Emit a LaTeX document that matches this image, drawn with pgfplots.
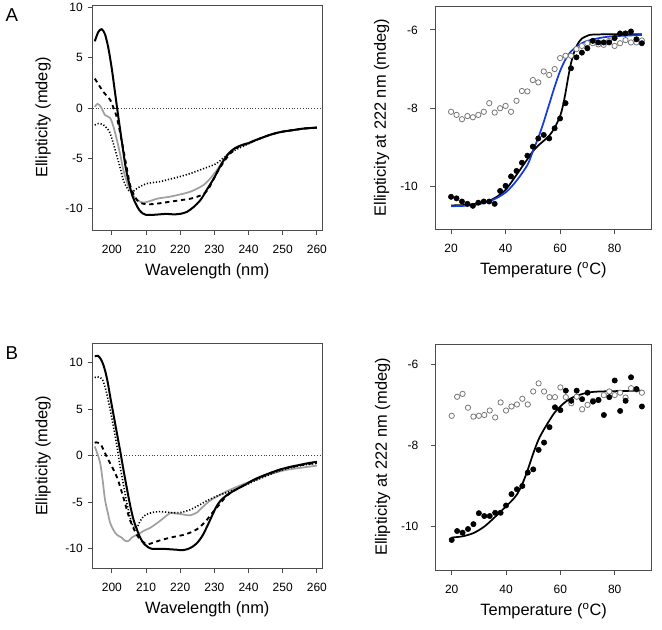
\documentclass[border=0pt]{standalone}
\usepackage{pgfplots}
\pgfplotsset{compat=1.18}
\usepackage{fontspec}
\setmainfont{Liberation Sans}
\definecolor{lgray}{RGB}{160,160,160}
\definecolor{cgray}{RGB}{120,120,120}
\definecolor{fitblue}{RGB}{20,60,220}
\begin{document}
\begin{tikzpicture}
\useasboundingbox (0,0) rectangle (496.5pt,-472.5pt);
\pgfplotsset{
  every axis/.append style={
    scale only axis, anchor=north west,
    axis line style={black!70, line width=0.6pt},
    every tick/.style={black!70, line width=0.6pt},
    tick align=outside, major tick length=3.75pt,
    xtick pos=bottom, ytick pos=left,
    ticklabel style={font=\fontsize{9}{11}\selectfont},
    label style={font=\fontsize{12.3}{14}\selectfont},
    xticklabel style={inner sep=0pt, anchor=north, yshift=-7.4pt},
    yticklabel style={inner sep=0pt, anchor=east, xshift=-3.5pt},
    xlabel style={at={(axis description cs:0.5,-0.182)}, anchor=center},
  },
  cdax/.style={
    width=171.98pt, height=168.75pt,
    xmin=194.4, xmax=261.5,
    xtick={200,210,220,230,240,250,260},
    xticklabels={200,210,220,230,240,250,260},
    ytick={-10,-5,0,5,10}, yticklabels={-10,-5,0,5,10},
    xlabel={Wavelength (nm)}, ylabel={Ellipticity (mdeg)},
    ylabel style={at={(axis description cs:-0.2167,0.5)}, anchor=center},
  },
  tax/.style={
    width=162.5pt, height=167.5pt,
    xmin=14.1, xmax=93.6,
    xtick={20,40,60,80}, xticklabels={20,40,60,80},
    ytick={-10,-8,-6}, yticklabels={-10,-8,-6},
    yticklabel style={xshift=-5.5pt},
    xlabel={Temperature (\textsuperscript{o}C)},
    ylabel={Ellipticity at 222 nm (mdeg)},
    ylabel style={at={(axis description cs:-0.246,0.5)}, anchor=center},
  },
  blk/.style={black, line width=1.5pt},
  dsh/.style={black, line width=1.4pt, dash pattern=on 3.2pt off 2.8pt},
  dtt/.style={black, line width=1.2pt, dash pattern=on 0.9pt off 1.4pt},
  gry/.style={lgray, line width=1.3pt},
  zer/.style={black!75, line width=0.5pt, dash pattern=on 0.6pt off 1.5pt},
  fill pt/.style={only marks, mark=*, mark size=2.0pt, mark options={fill=black, draw=black}},
  open pt/.style={only marks, mark=*, mark size=2.0pt, mark options={fill=white, draw=cgray, line width=0.6pt}},
}
\node[font=\fontsize{14}{16}\selectfont] at (8.8pt,-11.3pt) {A};
\node[font=\fontsize{14}{16}\selectfont] at (8.8pt,-265pt) {B};

% ---------- A left ----------
\begin{axis}[cdax, at={(69.53pt,-3.75pt)}, ymin=-12.1, ymax=10.2]
\addplot[zer] coordinates {(194.4,0) (261.5,0)};
\addplot[dtt, smooth] coordinates {(195,-1.7)(196,-1.55)(197,-1.6)(198,-1.8)(199,-2.2)(199.5,-2.5)(200.5,-3.6)(201.5,-4.8)(202.5,-6.0)(203.4,-7.2)(204.4,-7.9)(205.3,-8.3)(206.3,-8.25)(207.3,-8.0)(208.5,-7.75)(210.2,-7.5)(212,-7.4)(214.2,-7.3)(216.5,-7.1)(219,-6.9)(221,-6.7)(223,-6.5)(225,-6.25)(227,-6.0)(229,-5.75)(230.7,-5.5)(232.5,-5.0)(234.6,-4.5)(236.5,-4.1)(238.5,-3.8)(240,-3.55)(242,-3.25)(244,-2.95)(246,-2.7)(248,-2.5)(250,-2.35)(252,-2.25)(254,-2.15)(256,-2.05)(258,-2.0)(260,-1.95)};
\addplot[gry, smooth] coordinates {(195,0.1)(195.8,0.4)(196.8,0.1)(198,-0.7)(199.5,-1.0)(200.5,-1.9)(201.5,-3.2)(202.5,-4.7)(203.4,-6.2)(204.4,-7.3)(205.3,-8.1)(206.3,-8.7)(207.3,-9.1)(208.3,-9.3)(209.2,-9.4)(211,-9.25)(213.2,-9.0)(215,-8.9)(217,-8.8)(219,-8.65)(221,-8.5)(223,-8.3)(225,-8.0)(227,-7.6)(228.5,-7.1)(230,-6.5)(231.5,-5.8)(233.6,-4.7)(235,-4.2)(236.5,-3.9)(238,-3.65)(240,-3.45)(242,-3.2)(244,-2.95)(246,-2.7)(248,-2.5)(250,-2.35)(252,-2.25)(254,-2.15)(256,-2.05)(258,-2.0)(260,-1.95)};
\addplot[dsh, smooth] coordinates {(195,2.9)(195.6,2.6)(196.5,2.1)(197.5,1.6)(198.5,1.2)(199.5,0.8)(200.5,0.0)(201.5,-1.0)(202.5,-2.6)(203.4,-4.2)(204.4,-6.0)(205.3,-7.6)(206.3,-8.5)(207.3,-9.1)(208.3,-9.4)(209.2,-9.5)(211,-9.55)(213,-9.5)(215,-9.4)(217,-9.3)(219,-9.2)(221,-9.1)(223,-9.0)(225,-8.8)(227,-8.5)(228.5,-7.9)(230,-6.9)(231.5,-6.0)(233.5,-5.0)(235,-4.4)(236.5,-3.95)(238,-3.7)(240,-3.5)(242,-3.2)(244,-2.95)(246,-2.7)(248,-2.5)(250,-2.35)(252,-2.25)(254,-2.15)(256,-2.05)(258,-2.0)(260,-1.95)};
\addplot[blk, smooth] coordinates {(195,6.6)(196,7.5)(197,7.8)(198,7.3)(199,5.9)(200,3.85)(201,1.35)(202,-1.15)(203,-3.5)(204,-5.8)(205,-7.4)(206,-8.7)(207,-9.5)(208,-10.1)(209,-10.45)(210,-10.6)(212,-10.6)(214,-10.55)(216,-10.5)(218,-10.55)(220,-10.5)(222,-10.3)(224,-9.8)(226,-9.1)(228,-8.0)(230,-6.9)(232,-5.6)(234,-4.6)(236,-4.0)(238,-3.7)(240,-3.5)(242,-3.2)(244,-2.95)(246,-2.7)(248,-2.5)(250,-2.35)(252,-2.25)(254,-2.15)(256,-2.05)(258,-2.0)(260,-1.95)};
\end{axis}

% ---------- A right ----------
\begin{axis}[tax, at={(326.25pt,-4.5pt)}, ymin=-11.09, ymax=-5.39]
\addplot[open pt] coordinates {(20,-8.09)(22,-8.17)(24,-8.28)(26,-8.20)(28,-8.23)(30,-8.17)(32,-8.09)(34,-7.87)(36,-8.11)(38,-8.00)(40,-7.94)(42,-8.09)(44,-7.81)(46,-7.56)(48,-7.57)(50,-7.28)(52,-7.34)(54,-7.06)(56,-7.15)(58,-7.00)(60,-6.72)(62,-6.66)(64,-6.66)(66,-6.49)(68,-6.41)(70,-6.34)(72,-6.34)(74,-6.37)(76,-6.38)(78,-6.28)(80,-6.41)(82,-6.34)(84,-6.26)(86,-6.32)(88,-6.32)(90,-6.27)};
\addplot[fill pt] coordinates {(20,-10.26)(22,-10.30)(24,-10.38)(26,-10.44)(28,-10.49)(30,-10.41)(32,-10.38)(34,-10.38)(36,-10.44)(38,-10.11)(40,-9.98)(42,-9.74)(44,-9.60)(46,-9.39)(48,-9.21)(50,-8.98)(52,-8.77)(54,-8.68)(56,-8.77)(58,-8.51)(60,-8.26)(62,-7.87)(64,-6.98)(66,-6.70)(68,-6.58)(70,-6.47)(72,-6.28)(74,-6.32)(76,-6.32)(78,-6.32)(80,-6.21)(82,-6.09)(84,-6.09)(86,-6.04)(88,-6.24)(90,-6.34)};
\addplot[black, line width=1.3pt, smooth] coordinates {(20,-10.48)(25,-10.47)(30,-10.43)(35,-10.33)(38,-10.2)(40,-10.08)(42,-9.9)(44,-9.7)(46,-9.5)(48,-9.3)(50,-9.1)(52,-8.95)(54,-8.83)(56,-8.7)(58,-8.5)(60,-8.2)(61,-7.95)(62,-7.6)(63,-7.2)(64,-6.85)(65,-6.6)(66,-6.42)(67,-6.3)(68,-6.22)(70,-6.15)(72,-6.12)(80,-6.11)(90,-6.11)};
\addplot[fitblue, line width=1.3pt, smooth] coordinates {(20,-10.5)(25,-10.49)(30,-10.45)(35,-10.35)(40,-10.15)(44,-9.85)(48,-9.45)(50,-9.1)(52,-8.75)(54,-8.35)(55,-8.12)(56,-7.9)(58,-7.45)(60,-7.05)(62,-6.75)(64,-6.55)(66,-6.43)(68,-6.34)(70,-6.28)(75,-6.2)(80,-6.16)(90,-6.13)};
\end{axis}

% ---------- B left ----------
\begin{axis}[cdax, at={(69.53pt,-257.5pt)}, ymin=-12.1, ymax=12.1]
\addplot[zer] coordinates {(194.4,0) (261.5,0)};
\addplot[gry, smooth] coordinates {(195,1.0)(195.8,0.2)(196.6,-0.8)(197.3,-2.6)(198,-4.7)(198.8,-6.1)(199.5,-7.2)(200.5,-8.0)(201.5,-8.5)(202.9,-8.8)(203.7,-9.1)(204.4,-9.2)(205.1,-9.1)(205.8,-8.8)(207,-8.55)(208.3,-8.3)(209.7,-8.0)(211.2,-7.75)(212.6,-7.4)(214.1,-7.0)(215.6,-6.55)(217.1,-6.15)(218.5,-6.2)(220,-6.25)(221.5,-6.35)(222.9,-6.4)(224.9,-6.1)(226.3,-5.6)(227.8,-5.1)(229.2,-4.7)(230.7,-4.4)(232.6,-4.0)(234.6,-3.65)(236.5,-3.35)(238.5,-3.05)(241,-2.7)(244.3,-2.25)(247,-1.9)(250,-1.6)(252,-1.45)(254,-1.35)(256,-1.25)(258,-1.15)(260,-1.05)};
\addplot[dtt, smooth] coordinates {(195,8.4)(195.6,8.5)(197.1,8.3)(198,7.4)(198.5,6.7)(199.5,5.0)(200.5,3.1)(201.5,1.0)(202.4,-1.1)(203.4,-3.1)(204.4,-5.1)(205.1,-6.2)(205.8,-7.2)(206.5,-7.7)(207.3,-7.75)(208.3,-7.0)(209.3,-6.5)(210.5,-6.25)(211.7,-6.1)(214.1,-6.0)(217.1,-6.1)(220,-6.1)(222.9,-5.8)(225.8,-5.25)(227.7,-4.85)(229.7,-4.5)(231.6,-4.2)(233.6,-3.95)(235.5,-3.7)(237.5,-3.4)(240,-3.0)(242.4,-2.6)(246.3,-2.0)(248,-1.75)(250,-1.5)(252,-1.3)(254,-1.15)(256,-1.0)(258,-0.9)(260,-0.8)};
\addplot[dsh, smooth] coordinates {(195,1.4)(195.4,1.45)(196.6,1.3)(197.5,0.7)(198.5,-0.1)(199.5,-0.8)(200.5,-1.5)(201.5,-2.3)(202.4,-3.3)(203.4,-4.5)(204.4,-5.8)(205.3,-6.9)(206.3,-7.75)(207.3,-8.5)(208.3,-9.0)(209.5,-9.35)(210.7,-9.5)(212,-9.35)(213.2,-9.2)(215,-9.0)(217.1,-8.8)(219,-8.65)(221,-8.5)(223,-8.25)(224.9,-7.9)(226.5,-7.4)(227.8,-6.9)(229,-6.3)(230.2,-5.8)(232,-5.0)(233.6,-4.3)(235.5,-3.8)(237.5,-3.4)(240,-2.9)(242.5,-2.45)(245,-2.05)(248,-1.65)(250,-1.4)(252,-1.25)(254,-1.1)(256,-0.95)(258,-0.85)(260,-0.75)};
\addplot[blk, smooth] coordinates {(195,10.7)(196,10.75)(196.6,10.5)(197.3,10.0)(198,9.2)(198.8,7.9)(199.5,6.4)(200.5,4.4)(201.5,2.4)(202.5,0.4)(203.4,-1.5)(204.4,-3.5)(205.4,-5.4)(206.3,-6.8)(207.3,-7.9)(208.3,-8.8)(209.3,-9.4)(210.5,-9.8)(211.7,-10.0)(213,-10.0)(215,-10.0)(217,-10.05)(219,-10.1)(220.5,-10.15)(222,-10.05)(223.5,-9.8)(225,-9.35)(226.5,-8.6)(228,-7.5)(229.5,-6.3)(230.7,-5.4)(232,-4.75)(233.6,-4.25)(235.5,-3.8)(237.5,-3.4)(239.5,-3.0)(241.4,-2.6)(243.5,-2.25)(246.3,-1.85)(249,-1.5)(252,-1.2)(254,-1.05)(256,-0.9)(258,-0.75)(260,-0.65)};
\end{axis}

% ---------- B right ----------
\begin{axis}[tax, at={(326.75pt,-258pt)}, width=162pt, height=169.5pt, ymin=-11.07, ymax=-5.5]
\addplot[open pt] coordinates {(20,-7.27)(22,-6.80)(24,-6.73)(26,-7.07)(28,-7.29)(30,-7.27)(32,-7.25)(34,-7.14)(36,-7.31)(38,-6.94)(40,-7.14)(42,-7.04)(44,-6.99)(46,-6.85)(48,-6.99)(50,-6.67)(52,-6.47)(54,-6.67)(56,-6.81)(58,-6.81)(60,-6.57)(62,-6.81)(64,-6.96)(66,-6.80)(68,-7.11)(70,-7.00)(72,-6.90)(74,-6.88)(76,-6.76)(78,-6.67)(80,-6.76)(82,-6.70)(84,-6.82)(86,-6.59)(88,-6.62)(90,-6.70)};
\addplot[fill pt] coordinates {(20,-10.33)(22,-10.11)(24,-10.15)(26,-10.06)(28,-9.94)(30,-9.67)(32,-9.74)(34,-9.74)(36,-9.66)(38,-9.66)(40,-9.48)(42,-9.20)(44,-9.08)(46,-9.00)(48,-8.67)(50,-8.59)(52,-8.11)(54,-7.93)(56,-7.55)(58,-7.06)(60,-7.13)(62,-6.65)(64,-6.90)(66,-6.65)(68,-6.86)(70,-6.70)(72,-6.92)(74,-6.88)(76,-7.25)(78,-6.81)(80,-6.40)(82,-7.15)(84,-6.90)(86,-6.32)(88,-6.61)(90,-7.04)};
\addplot[black, line width=1.3pt, smooth] coordinates {(20,-10.27)(24,-10.24)(28,-10.16)(32,-10.0)(36,-9.76)(40,-9.5)(42,-9.37)(44,-9.21)(46,-8.95)(48,-8.6)(50,-8.2)(52,-7.85)(54,-7.6)(56,-7.38)(58,-7.18)(60,-7.04)(62,-6.92)(65,-6.8)(70,-6.7)(75,-6.67)(90,-6.65)};
\end{axis}
\end{tikzpicture}
\end{document}
